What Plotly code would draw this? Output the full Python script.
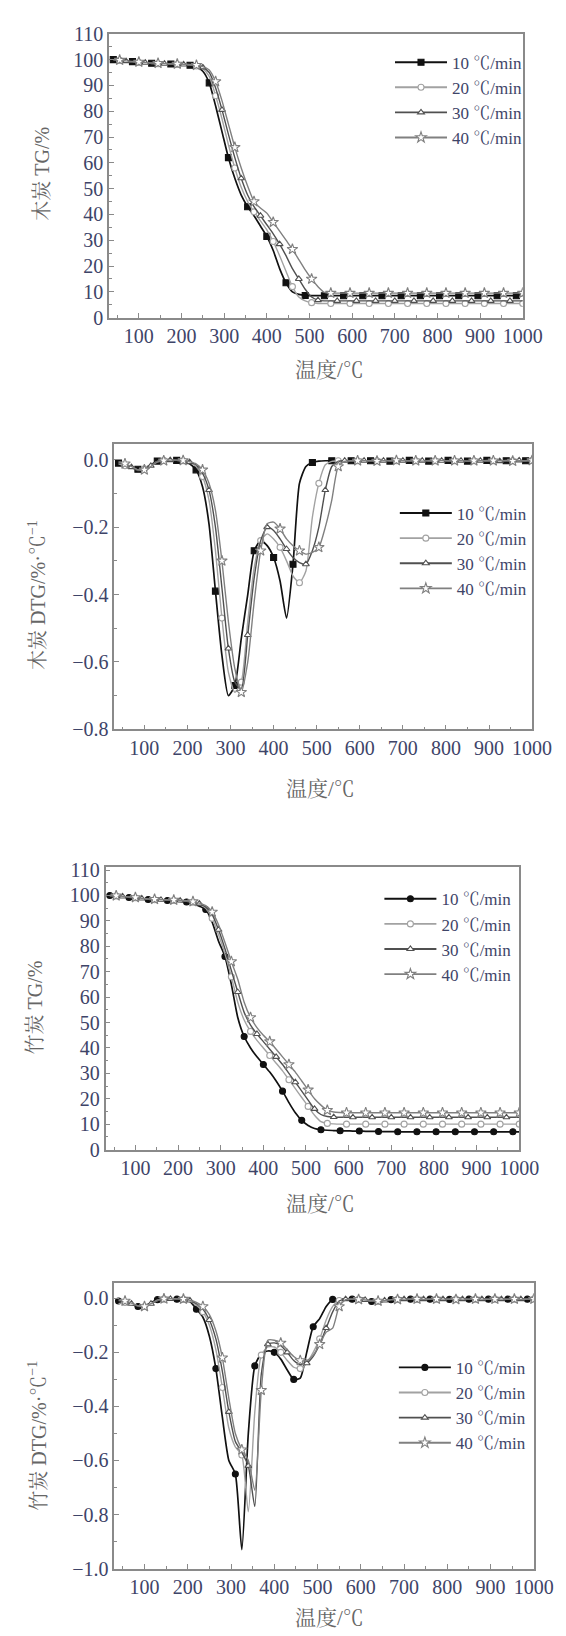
import plotly.graph_objects as go

W, H = 566, 1636

# ---------------- data ----------------
T = [40, 55, 70, 85, 100, 115, 130, 145, 160, 175, 190, 205, 220, 235, 250, 265, 280, 295,
     310, 325, 340, 355, 370, 385, 400, 415, 430, 445, 460, 475, 490, 505, 520, 535, 550, 565,
     580, 595, 610, 625, 640, 655, 670, 685, 700, 715, 730, 745, 760, 775, 790, 805, 820, 835,
     850, 865, 880, 895, 910, 925, 940, 955, 970, 985, 1000]

series_names = ["10 ℃/min", "20 ℃/min", "30 ℃/min", "40 ℃/min"]

# Panel 1: wood charcoal TG (%)
wood_tg_10 = [100, 99.8, 99.5, 99.2, 99.0, 98.8, 98.6, 98.5, 98.4, 98.3, 98.2, 98.0, 97.8,
              97.2, 95.5, 91, 82, 72, 62, 54, 47.5, 43, 39.5, 35.5, 31.5, 26, 19, 13.5, 10, 9, 8.6,
              8.5, 8.5, 8.5, 8.5, 8.5,
              8.5, 8.5, 8.5, 8.5, 8.5, 8.5, 8.5, 8.5, 8.5, 8.5, 8.5, 8.5, 8.5, 8.5, 8.5, 8.5, 8.5,
              8.5, 8.5, 8.5, 8.5, 8.5, 8.5, 8.5, 8.5, 8.5, 8.5, 8.5, 8.5]
wood_tg_20 = [100, 99.7, 99.4, 99.1, 98.9, 98.7, 98.5, 98.4, 98.3, 98.2, 98.1, 98.0, 97.9,
              97.5, 96.5, 93.5, 86, 77, 67, 58, 50.5, 45, 41, 37.5, 34, 29.5, 24, 18, 12, 8, 6.5,
              5.8, 5.5, 5.5, 5.5, 5.5,
              5.5, 5.5, 5.5, 5.5, 5.5, 5.5, 5.5, 5.5, 5.5, 5.5, 5.5, 5.5, 5.5, 5.5, 5.5, 5.5, 5.5,
              5.5, 5.5, 5.5, 5.5, 5.5, 5.5, 5.5, 5.5, 5.5, 5.5, 5.5, 5.5]
wood_tg_30 = [100, 99.7, 99.4, 99.2, 99.0, 98.8, 98.6, 98.5, 98.4, 98.3, 98.2, 98.1, 98.0,
              97.7, 97, 95, 89, 80.5, 71, 62, 54, 47.5, 43, 39.5, 36, 32.5, 28.5, 24, 19, 15, 11,
              8, 6.8, 6.5, 6.5, 6.5,
              6.5, 6.5, 6.5, 6.5, 6.5, 6.5, 6.5, 6.5, 6.5, 6.5, 6.5, 6.5, 6.5, 6.5, 6.5, 6.5, 6.5,
              6.5, 6.5, 6.5, 6.5, 6.5, 6.5, 6.5, 6.5, 6.5, 6.5, 6.5, 6.5]
wood_tg_40 = [100, 99.8, 99.5, 99.3, 99.1, 98.9, 98.7, 98.6, 98.5, 98.4, 98.3, 98.2, 98.1,
              97.8, 97.3, 96, 91.5, 84, 75, 66, 58, 51, 45, 42.5, 40.5, 37, 33.5, 30, 26.5, 22.5, 18.5,
              15, 12, 9.8, 9.5, 9.5,
              9.5, 9.5, 9.5, 9.5, 9.5, 9.5, 9.5, 9.5, 9.5, 9.5, 9.5, 9.5, 9.5, 9.5, 9.5, 9.5, 9.5,
              9.5, 9.5, 9.5, 9.5, 9.5, 9.5, 9.5, 9.5, 9.5, 9.5, 9.5, 9.5]

# Panel 2: wood charcoal DTG (%/℃)
wood_dtg_10 = [-0.010, -0.015, -0.020, -0.028, -0.025, -0.015, -0.004, -0.002, -0.001, -0.002, -0.004, -0.012,
               -0.03, -0.08, -0.19, -0.39, -0.58, -0.70, -0.67, -0.53, -0.40, -0.27, -0.24, -0.255, -0.29,
               -0.36, -0.47, -0.31, -0.07, -0.02, -0.008, -0.004, -0.003, -0.003, -0.003, -0.003,
               -0.003, -0.004, -0.003, -0.003, -0.002, -0.003, -0.004, -0.003, -0.003, -0.002, -0.003,
               -0.003, -0.004, -0.003, -0.003, -0.002, -0.003, -0.003, -0.004, -0.003, -0.003, -0.002,
               -0.003, -0.003, -0.003, -0.004, -0.003, -0.003, -0.002]
wood_dtg_20 = [-0.012, -0.018, -0.024, -0.030, -0.027, -0.017, -0.005, -0.002, -0.001, -0.002, -0.003, -0.008,
               -0.02, -0.05, -0.12, -0.27, -0.47, -0.63, -0.69, -0.66, -0.48, -0.32, -0.24, -0.22, -0.235,
               -0.26, -0.30, -0.345, -0.365, -0.33, -0.17, -0.07, -0.015, -0.005, -0.003, -0.003,
               -0.003, -0.003, -0.004, -0.003, -0.003, -0.002, -0.003, -0.003, -0.004, -0.003, -0.003,
               -0.002, -0.003, -0.003, -0.004, -0.003, -0.003, -0.002, -0.003, -0.003, -0.003, -0.004,
               -0.003, -0.003, -0.002, -0.003, -0.003, -0.003, -0.002]
wood_dtg_30 = [-0.008, -0.014, -0.022, -0.032, -0.029, -0.018, -0.006, -0.003, -0.001, -0.002, -0.003, -0.007,
               -0.015, -0.04, -0.09, -0.20, -0.38, -0.56, -0.66, -0.68, -0.52, -0.35, -0.24, -0.20, -0.21,
               -0.235, -0.265, -0.29, -0.305, -0.31, -0.27, -0.20, -0.09, -0.02, -0.005, -0.003,
               -0.003, -0.003, -0.003, -0.004, -0.003, -0.003, -0.002, -0.003, -0.003, -0.004, -0.003,
               -0.003, -0.002, -0.003, -0.003, -0.003, -0.004, -0.003, -0.003, -0.002, -0.003, -0.003,
               -0.003, -0.004, -0.003, -0.003, -0.002, -0.003, -0.002]
wood_dtg_40 = [-0.006, -0.012, -0.020, -0.030, -0.030, -0.020, -0.007, -0.003, -0.001, -0.001, -0.002, -0.006,
               -0.012, -0.03, -0.07, -0.15, -0.30, -0.48, -0.62, -0.69, -0.60, -0.42, -0.27, -0.19, -0.185,
               -0.205, -0.235, -0.255, -0.27, -0.28, -0.275, -0.26, -0.20, -0.12, -0.02, -0.005,
               -0.003, -0.003, -0.003, -0.003, -0.004, -0.003, -0.003, -0.002, -0.003, -0.003, -0.003,
               -0.004, -0.003, -0.003, -0.002, -0.003, -0.003, -0.003, -0.004, -0.003, -0.003, -0.002,
               -0.003, -0.003, -0.003, -0.004, -0.003, -0.003, -0.002]

# Panel 3: bamboo charcoal TG (%)
bamboo_tg_10 = [100, 99.8, 99.5, 99.2, 99.0, 98.7, 98.4, 98.2, 98.1, 98.0, 97.9, 97.7, 97.4, 96.8,
                95.8, 94.5, 89.5, 82, 76, 65, 52, 44.5, 40, 36.5, 33.5, 30.5, 27, 23, 18.5, 14.5, 11.5,
                9.5, 8.3, 7.8, 7.6, 7.5,
                7.4, 7.4, 7.3, 7.3, 7.2, 7.2, 7.1, 7.1, 7.1, 7.0, 7.0, 7.0, 7.0, 7.0, 7.0, 7.0, 7.0,
                7.0, 7.0, 7.0, 7.0, 7.0, 7.0, 7.0, 7.0, 7.0, 7.0, 7.0, 7.0]
bamboo_tg_20 = [100, 99.8, 99.6, 99.3, 99.1, 98.8, 98.5, 98.3, 98.2, 98.1, 98.0, 97.9, 97.7, 97.3,
                96.5, 95, 91, 84.5, 77, 68, 58, 51, 46.5, 43, 40, 37, 34, 31, 27.5, 24, 20.5,
                17, 13.5, 11, 10.3, 10.1,
                10.0, 10.0, 10.0, 10.0, 10.0, 10.0, 10.0, 10.0, 10.0, 10.0, 10.0, 10.0, 10.0, 10.0, 10.0,
                10.0, 10.0, 10.0, 10.0, 10.0, 10.0, 10.0, 10.0, 10.0, 10.0, 10.0, 10.0, 10.0, 10.0]
bamboo_tg_30 = [100, 99.8, 99.6, 99.3, 99.1, 98.8, 98.5, 98.4, 98.3, 98.2, 98.1, 98.0, 97.8, 97.5,
                96.8, 95.5, 92.5, 86.5, 79, 70.5, 62, 54, 49, 45.5, 42.5, 39.5, 36.5, 33.5, 30, 26.5, 23,
                19.5, 16, 13.8, 13, 12.8,
                12.7, 12.7, 12.7, 12.7, 12.7, 12.7, 12.7, 12.7, 12.7, 12.7, 12.7, 12.7, 12.7, 12.7, 12.7,
                12.7, 12.7, 12.7, 12.7, 12.7, 12.7, 12.7, 12.7, 12.7, 12.7, 12.7, 12.7, 12.7, 12.7]
bamboo_tg_40 = [100, 99.9, 99.7, 99.4, 99.2, 98.9, 98.6, 98.5, 98.4, 98.3, 98.2, 98.1, 97.9, 97.6,
                97, 96, 93.5, 88.5, 81.5, 74, 67, 58, 52, 48, 45, 42.5, 39.5, 36.5, 33.5, 30.5, 27,
                23.5, 20, 17.5, 15.5, 14.8,
                14.6, 14.5, 14.5, 14.5, 14.5, 14.5, 14.5, 14.5, 14.5, 14.5, 14.5, 14.5, 14.5, 14.5, 14.5,
                14.5, 14.5, 14.5, 14.5, 14.5, 14.5, 14.5, 14.5, 14.5, 14.5, 14.5, 14.5, 14.5, 14.5]

# Panel 4: bamboo charcoal DTG (%/℃)
bamboo_dtg_10 = [-0.010, -0.012, -0.022, -0.030, -0.028, -0.016, -0.005, -0.002, -0.002, -0.003, -0.005, -0.012,
                 -0.04, -0.07, -0.14, -0.26, -0.44, -0.60, -0.65, -0.93, -0.50, -0.25, -0.205, -0.195, -0.20,
                 -0.225, -0.265, -0.30, -0.295, -0.20, -0.105, -0.075, -0.03, -0.004, -0.003, -0.003,
                 -0.003, -0.005, -0.008, -0.012, -0.014, -0.010, -0.005, -0.004, -0.003, -0.003, -0.003,
                 -0.004, -0.003, -0.003, -0.003, -0.004, -0.003, -0.003, -0.003, -0.004, -0.003, -0.003,
                 -0.003, -0.004, -0.003, -0.003, -0.003, -0.003, -0.003]
bamboo_dtg_20 = [-0.020, -0.015, -0.020, -0.028, -0.030, -0.020, -0.008, -0.003, -0.002, -0.002, -0.004, -0.010,
                 -0.025, -0.05, -0.10, -0.19, -0.33, -0.48, -0.55, -0.58, -0.79, -0.42, -0.21, -0.18, -0.18,
                 -0.20, -0.23, -0.255, -0.26, -0.24, -0.20, -0.15, -0.08, -0.03, -0.008, -0.003,
                 -0.003, -0.004, -0.007, -0.010, -0.012, -0.009, -0.005, -0.004, -0.003, -0.003, -0.004,
                 -0.003, -0.003, -0.003, -0.004, -0.003, -0.003, -0.003, -0.004, -0.003, -0.003, -0.003,
                 -0.003, -0.003, -0.004, -0.003, -0.003, -0.003, -0.003]
bamboo_dtg_30 = [-0.005, -0.010, -0.020, -0.030, -0.030, -0.020, -0.007, -0.003, -0.002, -0.002, -0.003, -0.008,
                 -0.02, -0.04, -0.08, -0.15, -0.27, -0.42, -0.53, -0.57, -0.62, -0.77, -0.28, -0.17, -0.165,
                 -0.175, -0.20, -0.23, -0.245, -0.24, -0.215, -0.17, -0.11, -0.05, -0.01, -0.003,
                 -0.003, -0.004, -0.006, -0.009, -0.011, -0.008, -0.005, -0.003, -0.003, -0.004, -0.003,
                 -0.003, -0.003, -0.004, -0.003, -0.003, -0.003, -0.003, -0.004, -0.003, -0.003, -0.003,
                 -0.004, -0.003, -0.003, -0.003, -0.003, -0.004, -0.003]
bamboo_dtg_40 = [-0.008, -0.010, -0.018, -0.028, -0.030, -0.020, -0.006, -0.002, -0.001, -0.002, -0.003, -0.007,
                 -0.015, -0.03, -0.06, -0.12, -0.22, -0.37, -0.50, -0.56, -0.60, -0.71, -0.34, -0.155, -0.155,
                 -0.165, -0.19, -0.215, -0.23, -0.23, -0.21, -0.17, -0.125, -0.11, -0.03, -0.005,
                 -0.003, -0.004, -0.006, -0.008, -0.010, -0.008, -0.005, -0.004, -0.003, -0.003, -0.003,
                 -0.004, -0.003, -0.003, -0.003, -0.003, -0.004, -0.003, -0.003, -0.003, -0.003, -0.004,
                 -0.003, -0.003, -0.003, -0.003, -0.004, -0.003, -0.003]

panels = [
    dict(series=[wood_tg_10, wood_tg_20, wood_tg_30, wood_tg_40], ytitle="木炭 TG/%",
         yrange=[0, 110], dtick=10, minor=5, fmt="d", filled="square",
         box=(104.7, 533.6, 15, 302.7), xt=(333, 356), yt=(35, 157), leg=(396, 26)),
    dict(series=[wood_dtg_10, wood_dtg_20, wood_dtg_30, wood_dtg_40], ytitle="木炭 DTG/%·℃<sup>−1</sup>",
         yrange=[-0.8, 0.047], dtick=0.2, minor=0.1, fmt=".1f", filled="square",
         box=(110.1, 543.3, 430.7, 720), xt=(324, 781), yt=(30, 584), leg=(401, 483)),
    dict(series=[bamboo_tg_10, bamboo_tg_20, bamboo_tg_30, bamboo_tg_40], ytitle="竹炭 TG/%",
         yrange=[0, 111.3], dtick=10, minor=5, fmt="d", filled="circle",
         box=(101.1, 530, 859.3, 1146), xt=(324, 1201), yt=(27, 1002), leg=(385, 874)),
    dict(series=[bamboo_dtg_10, bamboo_dtg_20, bamboo_dtg_30, bamboo_dtg_40], ytitle="竹炭 DTG/%·℃<sup>−1</sup>",
         yrange=[-1.0, 0.055], dtick=0.2, minor=0.1, fmt=".1f", filled="circle",
         box=(110.1, 545.1, 1281.7, 1570.7), xt=(333, 1621), yt=(30, 1436), leg=(400, 1349)),
]

# ---------------- style ----------------
FONT = "Liberation Serif, Noto Serif CJK SC, Noto Sans CJK SC, serif"
TICK_COLOR = "#3e4468"
TITLE_COLOR = "#666666"
AXIS_COLOR = "#8a8a8a"
line_colors = ["#111111", "#a2a2a2", "#505050", "#808080"]
line_widths = [1.7, 1.4, 1.4, 1.4]
phases = [0, 1, 2, 1]

fig = go.Figure()
annotations = []
layout = {}

for p_i, p in enumerate(panels):
    k = "" if p_i == 0 else str(p_i + 1)
    xa, ya = "x" + k, "y" + k
    legname = "legend" + k
    l, r, t, b = p["box"]
    symbols = [p["filled"], "circle", "triangle-up", "star"]
    for s_i, vals in enumerate(p["series"]):
        col = line_colors[s_i]
        fill = col if s_i == 0 else "white"
        msize = 6 if s_i != 3 else 8
        fig.add_trace(go.Scatter(x=T, y=vals, mode="lines", xaxis=xa, yaxis=ya,
                                 line=dict(color=col, width=line_widths[s_i], shape="spline", smoothing=0.6),
                                 showlegend=False, hoverinfo="skip"))
        idx = list(range(phases[s_i], len(T), 3))
        fig.add_trace(go.Scatter(x=[T[i] for i in idx], y=[vals[i] for i in idx], mode="markers",
                                 xaxis=xa, yaxis=ya,
                                 marker=dict(symbol=symbols[s_i], size=msize, color=fill,
                                             line=dict(color=col, width=1.1)),
                                 showlegend=False, hoverinfo="skip"))
        fig.add_trace(go.Scatter(x=[None], y=[None], mode="lines+markers", xaxis=xa, yaxis=ya,
                                 name=series_names[s_i], legend=legname,
                                 line=dict(color=col, width=1.9),
                                 marker=dict(symbol=symbols[s_i], size=msize, color=fill,
                                             line=dict(color=col, width=1.1))))

    layout["xaxis" + k] = dict(domain=[l / W, r / W], range=[30, 1000], anchor=ya,
                               tick0=0, dtick=100, ticks="inside", ticklen=5, tickwidth=1,
                               tickcolor=AXIS_COLOR, showline=True, linecolor=AXIS_COLOR,
                               linewidth=1.5, mirror=True, showgrid=False, zeroline=False,
                               tickfont=dict(family=FONT, size=20, color=TICK_COLOR),
                               minor=dict(dtick=50, ticks="inside", ticklen=3, tickcolor=AXIS_COLOR))
    layout["yaxis" + k] = dict(domain=[1 - b / H, 1 - t / H], range=p["yrange"], anchor=xa,
                               tick0=0, dtick=p["dtick"], tickformat=p["fmt"], ticks="inside",
                               ticklen=5, tickwidth=1, tickcolor=AXIS_COLOR, showline=True,
                               linecolor=AXIS_COLOR, linewidth=1.5, mirror=True, showgrid=False,
                               zeroline=False,
                               tickfont=dict(family=FONT, size=20, color=TICK_COLOR),
                               minor=dict(dtick=p["minor"], ticks="inside", ticklen=3,
                                          tickcolor=AXIS_COLOR))
    lx, ly = p["leg"]
    layout[legname] = dict(x=lx / W, y=1 - ly / H, xanchor="left", yanchor="top",
                           bgcolor="rgba(0,0,0,0)", borderwidth=0, itemwidth=52,
                           font=dict(family=FONT, size=17, color=TICK_COLOR), tracegroupgap=0)
    annotations.append(dict(text="温度/℃", x=p["xt"][0] / W, y=1 - p["xt"][1] / H,
                            xref="paper", yref="paper", showarrow=False,
                            xanchor="center", yanchor="middle",
                            font=dict(family=FONT, size=21, color=TITLE_COLOR)))
    annotations.append(dict(text=p["ytitle"], x=p["yt"][0] / W, y=1 - p["yt"][1] / H,
                            xref="paper", yref="paper", showarrow=False, textangle=-90,
                            xanchor="center", yanchor="middle",
                            font=dict(family=FONT, size=20, color=TITLE_COLOR)))

fig.update_layout(width=W, height=H, margin=dict(l=0, r=0, t=0, b=0),
                  paper_bgcolor="white", plot_bgcolor="white",
                  annotations=annotations, **layout)

fig.write_html("out.html")
